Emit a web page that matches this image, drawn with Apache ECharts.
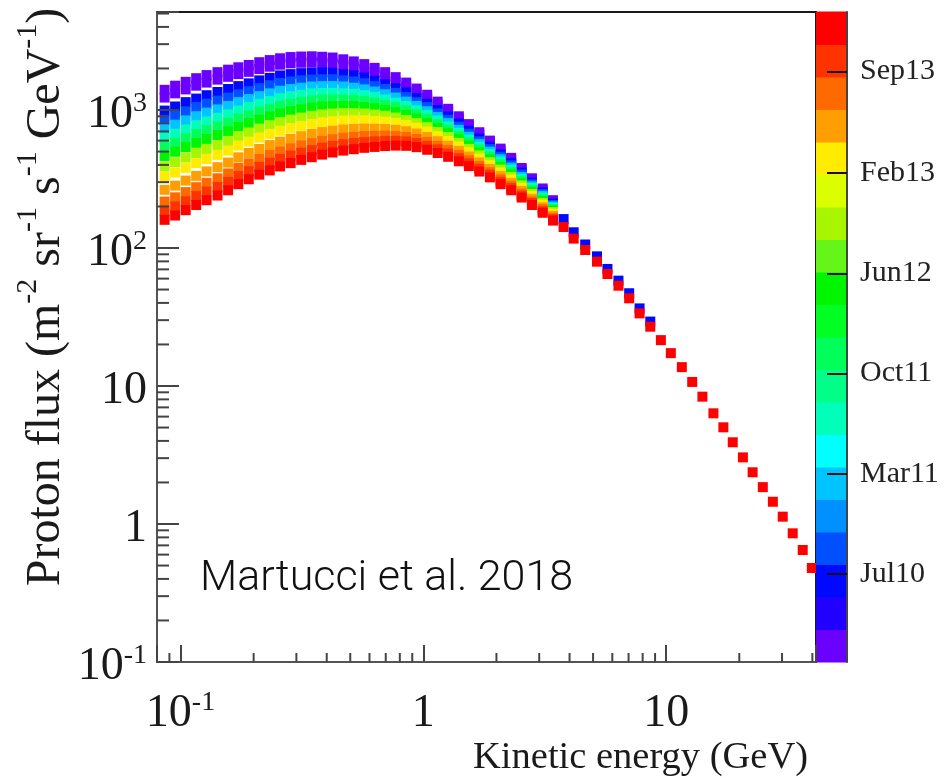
<!DOCTYPE html>
<html>
<head>
<meta charset="utf-8">
<script src="https://cdn.jsdelivr.net/npm/echarts@6/dist/echarts.min.js"></script>
<style>
  html, body { margin: 0; padding: 0; background: #fff; }
  #chart { width: 949px; height: 778px; }
</style>
</head>
<body>
<div id="chart"></div>
<script>
// energy bins (GeV)
const lowEnergy = [0.086, 0.095, 0.105, 0.116, 0.128, 0.142, 0.157, 0.173, 0.191, 0.211,
  0.233, 0.257, 0.284, 0.314, 0.347, 0.383, 0.423, 0.468, 0.517, 0.571,
  0.630, 0.696, 0.769, 0.850, 0.938, 1.037, 1.145, 1.265, 1.40, 1.54,
  1.70, 1.88, 2.08, 2.30, 2.54, 2.80, 3.10, 3.42];
const highEnergy = [3.78, 4.16, 4.64, 5.19, 5.73, 6.36, 7.04, 7.77, 8.60, 9.51,
  10.45, 11.6, 12.8, 14.1, 15.65, 17.2, 18.8, 20.7, 22.7, 25.0,
  27.5, 30.2, 33.2, 36.5, 39.8];
// above ~4 GeV all periods sit on top of each other, the last one shows
const highFlux = [142, 117, 96.7, 79.6, 64.8, 53.3, 43.2, 33.6, 26.9, 21.5,
  17.3, 13.7, 10.7, 8.37, 6.34, 5.02, 3.91, 3.04, 2.37, 1.85,
  1.45, 1.13, 0.856, 0.648, 0.48];
const fluxJun10High = [162, 130, 106, 87, 70.5, 58, 47, 36.5, 29.3];

// proton flux per period, one value per low energy bin
const fluxJan10 = [1400, 1500, 1600, 1700, 1790, 1880, 1960, 2040, 2120, 2220, 2300, 2370, 2420, 2440, 2450, 2430, 2400, 2330, 2250, 2150, 2020, 1880, 1730, 1580, 1430, 1290, 1150, 1020, 900, 790, 690, 600, 525, 450, 380, 320, 270, 222];
const fluxFeb10 = [1230, 1320, 1410, 1500, 1580, 1660, 1740, 1820, 1890, 1980, 2060, 2130, 2180, 2200, 2210, 2200, 2180, 2120, 2060, 1980, 1870, 1750, 1610, 1480, 1350, 1220, 1090, 973, 859, 759, 664, 578, 507, 436, 369, 311, 263, 217];
const fluxJun10 = [990, 1060, 1140, 1210, 1280, 1350, 1420, 1490, 1560, 1640, 1710, 1780, 1820, 1850, 1870, 1880, 1860, 1820, 1780, 1720, 1630, 1540, 1440, 1340, 1220, 1110, 1000, 897, 798, 706, 621, 543, 478, 412, 352, 298, 253, 210];
const fluxSep10 = [849, 912, 977, 1050, 1110, 1170, 1230, 1300, 1370, 1440, 1510, 1570, 1610, 1640, 1660, 1670, 1670, 1640, 1610, 1560, 1490, 1420, 1330, 1240, 1140, 1050, 944, 849, 757, 673, 593, 521, 458, 397, 340, 289, 246, 205];
const fluxJan11 = [729, 783, 841, 902, 957, 1010, 1070, 1140, 1200, 1260, 1320, 1380, 1420, 1450, 1480, 1490, 1490, 1480, 1450, 1410, 1360, 1300, 1230, 1150, 1070, 979, 889, 804, 718, 640, 566, 499, 440, 382, 327, 280, 239, 200];
const fluxJun11 = [627, 673, 724, 776, 826, 877, 931, 991, 1050, 1110, 1160, 1220, 1260, 1290, 1320, 1330, 1330, 1320, 1310, 1280, 1240, 1190, 1130, 1070, 995, 918, 838, 759, 681, 610, 542, 479, 422, 368, 316, 272, 232, 196];
const fluxNov11 = [540, 578, 624, 670, 714, 760, 807, 865, 916, 971, 1020, 1070, 1110, 1140, 1170, 1190, 1190, 1190, 1180, 1160, 1130, 1090, 1050, 993, 929, 861, 789, 718, 647, 581, 518, 458, 404, 355, 305, 263, 226, 191];
const fluxApr12 = [463, 498, 537, 578, 617, 658, 701, 755, 802, 851, 899, 944, 982, 1010, 1040, 1060, 1070, 1070, 1070, 1050, 1030, 1000, 966, 923, 869, 809, 743, 679, 614, 552, 494, 439, 387, 341, 295, 255, 219, 187];
const fluxSep12 = [389, 418, 452, 488, 522, 558, 597, 646, 687, 733, 776, 817, 851, 881, 908, 929, 942, 948, 948, 942, 927, 908, 881, 847, 804, 752, 693, 637, 578, 522, 469, 418, 370, 327, 284, 246, 212, 182];
const fluxJan13 = [327, 352, 381, 412, 442, 473, 508, 552, 590, 631, 670, 708, 740, 767, 793, 815, 830, 839, 843, 843, 834, 824, 805, 778, 743, 698, 647, 597, 545, 494, 445, 398, 352, 313, 273, 238, 206, 177];
const fluxApr13 = [264, 283, 308, 333, 359, 385, 416, 454, 488, 522, 557, 590, 619, 646, 670, 692, 708, 721, 728, 733, 731, 728, 718, 701, 675, 637, 594, 551, 505, 460, 417, 374, 332, 296, 259, 227, 197, 171];
const fluxJul13 = [217, 233, 254, 276, 297, 320, 347, 381, 411, 442, 472, 502, 528, 553, 575, 597, 614, 630, 638, 647, 649, 652, 647, 637, 617, 586, 550, 513, 472, 433, 393, 354, 315, 282, 248, 218, 191, 166];
const fluxSep13 = [186, 200, 218, 238, 256, 277, 301, 332, 360, 387, 415, 443, 467, 490, 512, 533, 550, 565, 577, 586, 592, 597, 598, 592, 577, 550, 518, 484, 448, 411, 375, 340, 302, 272, 240, 212, 185, 162];
const fluxDec13 = [160, 172, 188, 205, 222, 240, 262, 290, 315, 340, 365, 390, 412, 435, 455, 475, 492, 508, 520, 532, 540, 548, 552, 550, 538, 515, 488, 458, 425, 392, 358, 325, 290, 262, 232, 205, 180, 158];

const periodNames = ['Jan10', 'Feb10', 'Jun10', 'Sep10', 'Jan11', 'Jun11', 'Nov11', 'Apr12', 'Sep12', 'Jan13', 'Apr13', 'Jul13', 'Sep13', 'Dec13'];
// months since Jan 2010
const periodMonths = [0.6, 1.8, 5.0, 8.0, 12.5, 17.5, 22.0, 27.0, 32.0, 36.5, 39.5, 42.5, 44.5, 47.0];
const periodFlux = [fluxJan10, fluxFeb10, fluxJun10, fluxSep10, fluxJan11, fluxJun11, fluxNov11,
  fluxApr12, fluxSep12, fluxJan13, fluxApr13, fluxJul13, fluxSep13, fluxDec13];

// colour bar (months since Jan 2010)
const bandStart = [0, 2.4, 4.8, 7.2, 9.6, 12, 14.4, 16.8, 19.2, 21.6, 24, 26.4, 28.8, 31.2, 33.6, 36, 38.4, 40.8, 43.2, 45.6];
const bandColors = ['#6a00ff', '#2200ff', '#0008ff', '#0050ff', '#0090ff', '#00c4ff', '#00ffff', '#00ffb8', '#00ff88', '#00ff5a',
  '#00ff22', '#00f500', '#66f519', '#a8f500', '#dcff00', '#ffec00', '#ff9e00', '#ff6a00', '#ff3300', '#ff0000'];
const cbMax = 48;
const cbTickValues = [6.5, 13.9, 21.3, 28.7, 36.1, 43.6];
const cbTickLabels = ['Jul10', 'Mar11', 'Oct11', 'Jun12', 'Feb13', 'Sep13'];

// axis ticks
const xTickValues = [0.1, 1, 10];
const xTickLabels = ['10{sup|-1}', '1', '10'];
const yTickValues = [0.1, 1, 10, 100, 1000];
const yTickLabels = ['10{sup|-1}', '1', '10', '10{sup|2}', '10{sup|3}'];
const xMinorTicks = [0.09, 0.2, 0.3, 0.4, 0.5, 0.6, 0.7, 0.8, 0.9, 2, 3, 4, 5, 6, 7, 8, 9, 20, 30, 40];
const yMinorTicks = [0.2, 0.3, 0.4, 0.5, 0.6, 0.7, 0.8, 0.9, 2, 3, 4, 5, 6, 7, 8, 9,
  20, 30, 40, 50, 60, 70, 80, 90, 200, 300, 400, 500, 600, 700, 800, 900, 2000, 3000, 4000, 5000];

const xMin = 0.08, xMax = 41.4, yMin = 0.1, yMax = 5130;
const serif = 'Liberation Serif';
const ink = '#1a1a1a';

let chart = echarts.init(document.getElementById('chart'));

function pickLabel(values, labels, v) {
  for (let i = 0; i < values.length; i++) {
    if (Math.abs(v / values[i] - 1) < 1e-6) return labels[i];
  }
  return '';
}

function colorFor(month) {
  let idx = 0;
  for (let i = 0; i < bandStart.length; i++) {
    if (month >= bandStart[i]) idx = i;
  }
  return bandColors[idx];
}

let tickRich = {
  sup: { fontFamily: serif, fontSize: 28, lineHeight: 28, verticalAlign: 'top', color: ink }
};

let series = [];
periodFlux.forEach((flux, k) => {
  let data = lowEnergy.map((e, i) => [e, flux[i]]);
  if (flux === fluxJun10) {
    data = data.concat(fluxJun10High.map((f, i) => [highEnergy[i], f]));
  }
  if (k === periodFlux.length - 1) {
    data = data.concat(highEnergy.map((e, i) => [e, highFlux[i]]));
  }
  series.push({
    name: periodNames[k],
    type: 'scatter',
    xAxisIndex: 0,
    yAxisIndex: 0,
    data: data,
    symbol: 'rect',
    symbolSize: [10, 10],
    itemStyle: { color: colorFor(periodMonths[k]), opacity: 1 },
    silent: true,
    z: 2
  });
});

// short ticks between the decades
series.push({
  type: 'custom',
  xAxisIndex: 0,
  yAxisIndex: 0,
  silent: true,
  z: 6,
  data: xMinorTicks.map(v => [v, yMin]),
  renderItem: (params, api) => {
    let p = api.coord([api.value(0), api.value(1)]);
    return { type: 'line', shape: { x1: p[0], y1: p[1], x2: p[0], y2: p[1] - 9 },
      style: { stroke: '#444', lineWidth: 2 } };
  }
});
series.push({
  type: 'custom',
  xAxisIndex: 0,
  yAxisIndex: 0,
  silent: true,
  z: 6,
  data: yMinorTicks.map(v => [xMin, v]),
  renderItem: (params, api) => {
    let p = api.coord([api.value(0), api.value(1)]);
    return { type: 'line', shape: { x1: p[0], y1: p[1], x2: p[0] + 12, y2: p[1] },
      style: { stroke: '#444', lineWidth: 2 } };
  }
});

// colour bar bands
series.push({
  type: 'custom',
  xAxisIndex: 1,
  yAxisIndex: 1,
  silent: true,
  z: 3,
  data: bandStart.map((s, i) => [0, s, i + 1 < bandStart.length ? bandStart[i + 1] : cbMax]),
  renderItem: (params, api) => {
    let p0 = api.coord([0, api.value(1)]);
    let p1 = api.coord([1, api.value(2)]);
    return { type: 'rect',
      shape: { x: p0[0], y: p1[1] - 0.5, width: p1[0] - p0[0], height: p0[1] - p1[1] + 1 },
      style: { fill: bandColors[params.dataIndex] } };
  }
});

let option = {
  animation: false,
  backgroundColor: '#fff',
  grid: [
    { left: 157, top: 12, width: 659, height: 650, show: true, borderColor: ink, borderWidth: 2, backgroundColor: 'transparent' },
    { left: 816, top: 12, width: 31, height: 650 }
  ],
  xAxis: [
    {
      gridIndex: 0, type: 'log', logBase: 10, min: xMin, max: xMax, z: 5,
      axisLine: { show: true, onZero: false, lineStyle: { color: '#555', width: 2 } },
      axisTick: { show: true, inside: true, length: 17, lineStyle: { color: '#444', width: 2 } },
      axisLabel: {
        margin: 27, fontFamily: serif, fontSize: 46, lineHeight: 50, color: ink, rich: tickRich,
        formatter: v => pickLabel(xTickValues, xTickLabels, v)
      },
      splitLine: { show: false }
    },
    { gridIndex: 1, type: 'value', min: 0, max: 1, show: false }
  ],
  yAxis: [
    {
      gridIndex: 0, type: 'log', logBase: 10, min: yMin, max: yMax, z: 5,
      axisLine: { show: true, onZero: false, lineStyle: { color: '#555', width: 2 } },
      axisTick: { show: true, inside: true, length: 22, lineStyle: { color: '#444', width: 2 } },
      axisLabel: {
        margin: 10, fontFamily: serif, fontSize: 46, lineHeight: 50, color: ink, rich: tickRich,
        padding: [10, 0, 0, 0],
        formatter: v => pickLabel(yTickValues, yTickLabels, v)
      },
      splitLine: { show: false }
    },
    {
      gridIndex: 1, type: 'value', min: 0, max: cbMax, position: 'right', z: 5,
      axisLine: { show: true, onZero: false, lineStyle: { color: '#444', width: 2 } },
      axisTick: { show: true, inside: true, length: 20, customValues: cbTickValues, lineStyle: { color: '#111', width: 2 } },
      axisLabel: {
        margin: 13, fontFamily: serif, fontSize: 30, color: '#222', customValues: cbTickValues,
        formatter: v => pickLabel(cbTickValues, cbTickLabels, v)
      },
      splitLine: { show: false }
    }
  ],
  graphic: [
    {
      type: 'text', x: 46, y: 297, rotation: Math.PI / 2,
      style: {
        text: 'Proton flux (m{sup|-2} sr{sup|-1} s{sup|-1} GeV{sup|-1})',
        fontFamily: serif, fontSize: 48, lineHeight: 66, fill: ink,
        align: 'center', verticalAlign: 'middle', textAlign: 'center', textVerticalAlign: 'middle',
        rich: { sup: { fontFamily: serif, fontSize: 30, lineHeight: 30, verticalAlign: 'top', fill: ink, color: ink } }
      }
    },
    {
      type: 'text', x: 808, y: 758,
      style: {
        text: 'Kinetic energy (GeV)', fontFamily: serif, fontSize: 38.5, fill: ink,
        align: 'right', verticalAlign: 'middle', textAlign: 'right', textVerticalAlign: 'middle'
      }
    },
    {
      type: 'text', x: 200, y: 579,
      style: {
        text: 'Martucci et al. 2018', fontFamily: 'Roboto', fontWeight: 300, fontSize: 43, fill: '#111',
        align: 'left', verticalAlign: 'middle', textAlign: 'left', textVerticalAlign: 'middle'
      }
    }
  ],
  series: series
};

chart.setOption(option);
</script>
</body>
</html>
